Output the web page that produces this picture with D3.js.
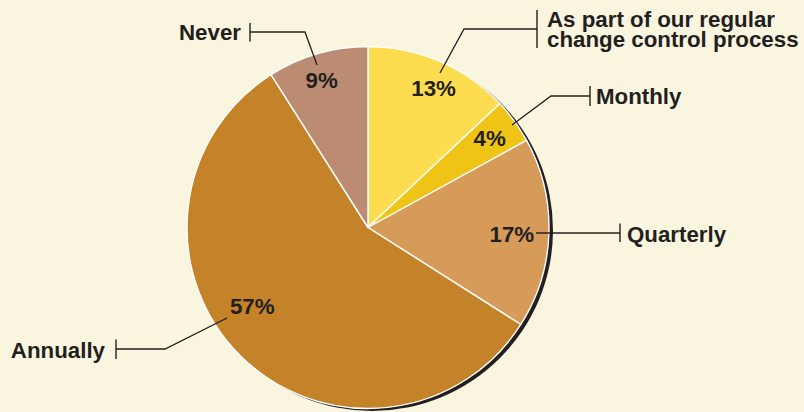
<!DOCTYPE html>
<html>
<head>
<meta charset="utf-8">
<script src="https://cdn.jsdelivr.net/npm/d3@7"></script>
<style>
  html, body { margin: 0; padding: 0; background: #f9f5df; }
  svg { display: block; }
  text { font-family: "Liberation Sans", Arial, Helvetica, sans-serif; font-weight: bold; fill: #231f20; }
</style>
</head>
<body>
<svg id="chart" width="804" height="412"></svg>
<script>
// Survey answers, clockwise from 12 o'clock
const categories = [
  "As part of our regular\nchange control process",
  "Monthly",
  "Quarterly",
  "Annually",
  "Never"
];
const values = [13, 4, 17, 57, 9];
const colors = ["#fddc4f", "#efc417", "#d69b59", "#c58329", "#bc8c72"];

// Pie geometry
const width = 804, height = 412;
const cx = 368, cy = 227.5, radius = 181;
const ink = "#231f20";
const fontSize = 22.3;

// Percent label placement: radius and angle nudge (degrees) around each slice's mid-angle
const pctPlacement = [
  { r: 154, da: 1.8 },
  { r: 151, da: -0.3 },
  { r: 144, da: 0.6 },
  { r: 140, da: 10.8 },
  { r: 155, da: -1.2 }
];

// Callouts relative to the pie centre: leader polyline, end tick and category text
const callouts = [
  { path: [[72, -154.5], [96, -198.5], [169, -198.5]], tick: [-217.5, -179.5], tx: 179, ty: -201, anchor: "start" },
  { path: [[144, -102.5], [183, -131.5], [222, -131.5]], tick: [-141.5, -121.5], tx: 228, ty: -123.5, anchor: "start" },
  { path: [[168, 5.5], [252, 5.5]], tick: [-4, 14.5], tx: 259, ty: 14.5, anchor: "start" },
  { path: [[-141, 90.5], [-203, 121.5], [-252, 121.5]], tick: [112, 131.5], tx: -263, ty: 130.5, anchor: "end" },
  { path: [[-51, -162.5], [-63, -195.5], [-118, -195.5]], tick: [-204.5, -186], tx: -127, ty: -187.5, anchor: "end" }
];

const svg = d3.select("#chart");
svg.append("rect").attr("width", width).attr("height", height).attr("fill", "#f9f5df");

const g = svg.append("g").attr("transform", `translate(${cx},${cy})`);

const pie = d3.pie().value(d => d).sort(null);
const arcs = pie(values);
const arc = d3.arc().innerRadius(0).outerRadius(radius);

// Drop shadow below the pie
g.append("circle")
  .attr("cx", 4).attr("cy", 2.5).attr("r", radius)
  .attr("fill", ink);

// Slices
g.selectAll("path.slice")
  .data(arcs)
  .join("path")
  .attr("class", "slice")
  .attr("d", arc)
  .attr("fill", (d, i) => colors[i])
  .attr("stroke", "#ffffff")
  .attr("stroke-width", 1.4)
  .attr("stroke-linejoin", "round");

// Leader lines
const line = d3.line();
callouts.forEach(c => {
  g.append("path")
    .attr("d", line(c.path))
    .attr("fill", "none")
    .attr("stroke", ink)
    .attr("stroke-width", 1.3);
  const end = c.path[c.path.length - 1];
  g.append("line")
    .attr("x1", end[0]).attr("x2", end[0])
    .attr("y1", c.tick[0]).attr("y2", c.tick[1])
    .attr("stroke", ink)
    .attr("stroke-width", 1.4);
});

// Percent labels
arcs.forEach((d, i) => {
  const p = pctPlacement[i];
  const a = (d.startAngle + d.endAngle) / 2 + p.da * Math.PI / 180;
  g.append("text")
    .attr("x", p.r * Math.sin(a))
    .attr("y", -p.r * Math.cos(a))
    .attr("dy", "0.36em")
    .attr("text-anchor", "middle")
    .attr("font-size", fontSize)
    .text(values[i] + "%");
});

// Category labels
categories.forEach((name, i) => {
  const c = callouts[i];
  const lines = name.split("\n");
  const t = g.append("text")
    .attr("x", c.tx)
    .attr("y", c.ty)
    .attr("text-anchor", c.anchor)
    .attr("font-size", fontSize);
  lines.forEach((ln, k) => {
    t.append("tspan").attr("x", c.tx).attr("dy", k === 0 ? 0 : 20.5).text(ln);
  });
});
</script>
</body>
</html>
